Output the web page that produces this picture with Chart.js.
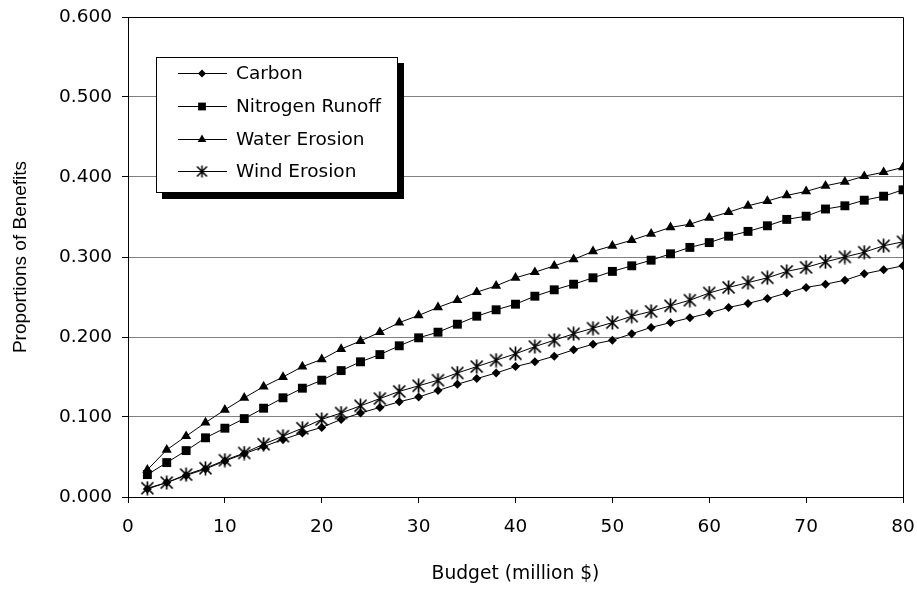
<!DOCTYPE html>
<html>
<head>
<meta charset="utf-8">
<script src="https://cdn.jsdelivr.net/npm/chart.js@4/dist/chart.umd.min.js"></script>
<style>
  html, body { margin: 0; padding: 0; background: #fff; overflow: hidden; }
  #wrap { width: 917px; height: 591px; }
  canvas { display: block; }
</style>
</head>
<body>
<div id="wrap"><canvas id="benefits"></canvas></div>
<script>
// budget (million $)
const budget = [2,4,6,8,10,12,14,16,18,20,22,24,26,28,30,32,34,36,38,40,
                42,44,46,48,50,52,54,56,58,60,62,64,66,68,70,72,74,76,78,80];

const carbon = [.010,.018,.027,.035,.045,.054,.063,.072,.080,.087,
                .097,.105,.112,.119,.125,.133,.141,.148,.155,.163,
                .169,.176,.184,.191,.196,.204,.212,.218,.224,.230,
                .237,.242,.248,.255,.262,.266,.271,.279,.284,.289];

const nitrogen = [.028,.043,.058,.074,.086,.098,.111,.124,.136,.146,
                  .158,.169,.178,.189,.199,.206,.216,.226,.234,.241,
                  .251,.259,.266,.274,.282,.289,.296,.304,.312,.318,
                  .326,.332,.339,.347,.351,.360,.364,.371,.376,.384];

const water = [.034,.059,.076,.093,.109,.124,.138,.150,.163,.172,
               .185,.195,.206,.218,.227,.237,.246,.256,.264,.274,
               .281,.289,.297,.307,.314,.321,.329,.337,.341,.349,
               .356,.364,.370,.377,.382,.389,.394,.401,.406,.412];

const wind = [.011,.018,.028,.036,.046,.055,.066,.076,.086,.097,
              .105,.114,.123,.132,.139,.146,.155,.163,.171,.179,
              .188,.196,.204,.211,.218,.226,.232,.239,.246,.255,
              .262,.268,.274,.282,.287,.294,.300,.306,.314,.319];

const seriesNames = ["Carbon", "Nitrogen Runoff", "Water Erosion", "Wind Erosion"];
const xTicks = [0,10,20,30,40,50,60,70,80];
const yTicks = [0,0.1,0.2,0.3,0.4,0.5,0.6];

const FONT = "'Liberation Sans', Arial, sans-serif";
const WIDE = "'DejaVu Sans', Verdana, sans-serif";

// asterisk marker: an X with a vertical bar
function makeStar(size, lw){
  let c = document.createElement("canvas");
  c.width = size; c.height = size;
  let g = c.getContext("2d");
  g.strokeStyle = "#000";
  g.lineWidth = lw;
  let a = 1.5, b = size - 1.5, m = size / 2;
  g.beginPath();
  g.moveTo(a, a); g.lineTo(b, b);
  g.moveTo(b, a); g.lineTo(a, b);
  g.moveTo(m, 0.5); g.lineTo(m, size - 0.5);
  g.stroke();
  return c;
}
const starBig = makeStar(15, 1.7);
const starSmall = makeStar(13, 1.5);

function pts(arr){
  return arr.map((v, i) => ({x: budget[i], y: v}));
}

const styles = [
  {style: "rectRot", radius: 4.5, legendRadius: 4},
  {style: "rect", radius: 6.3, legendRadius: 5.5},
  {style: "triangle", radius: 5.8, legendRadius: 5},
  {style: starBig, radius: 7, legendStyle: starSmall}
];

const allSeries = [carbon, nitrogen, water, wind];

const datasets = allSeries.map((s, i) => ({
  label: seriesNames[i],
  data: pts(s),
  borderColor: "#000",
  backgroundColor: "#000",
  borderWidth: 1,
  pointStyle: styles[i].style,
  pointRadius: styles[i].radius,
  pointBorderWidth: 0,
  pointBackgroundColor: "#000",
  pointBorderColor: "#000",
  tension: 0
}));

// drop the label overhang padding so layout.padding decides the plot box
function noPad(scale){
  scale.paddingTop = 0;
  scale.paddingBottom = 0;
  scale.paddingLeft = 0;
  scale.paddingRight = 0;
}

// black frame on top and right of the plot area
const frame = {
  id: "frame",
  afterDatasetsDraw(chart){
    const {ctx, chartArea: a} = chart;
    ctx.save();
    ctx.strokeStyle = "#000";
    ctx.lineWidth = 1;
    ctx.beginPath();
    ctx.moveTo(a.left, a.top + 0.5);
    ctx.lineTo(a.right + 0.5, a.top + 0.5);
    ctx.lineTo(a.right + 0.5, a.bottom);
    ctx.stroke();
    ctx.restore();
  }
};

// boxed legend with drop shadow
const boxLegend = {
  id: "boxLegend",
  afterDraw(chart){
    const ctx = chart.ctx;
    const bx = 156, by = 57, bw = 242, bh = 136;
    ctx.save();
    ctx.fillStyle = "#000";
    ctx.fillRect(bx + 6, by + 6, bw, bh);
    ctx.fillStyle = "#fff";
    ctx.fillRect(bx, by, bw, bh);
    ctx.strokeStyle = "#000";
    ctx.lineWidth = 1;
    ctx.strokeRect(bx + 0.5, by + 0.5, bw - 1, bh - 1);

    const rows = [73, 106, 139, 171];
    ctx.font = "18.5px " + WIDE;
    ctx.textBaseline = "middle";
    ctx.textAlign = "left";
    seriesNames.forEach((name, i) => {
      let y = rows[i];
      ctx.strokeStyle = "#000";
      ctx.lineWidth = 1;
      ctx.beginPath();
      ctx.moveTo(178, y + 0.5);
      ctx.lineTo(227, y + 0.5);
      ctx.stroke();
      let st = styles[i].legendStyle || styles[i].style;
      ctx.fillStyle = "#000";
      Chart.helpers.drawPoint(ctx, {
        pointStyle: st, radius: styles[i].legendRadius || 6,
        rotation: 0, borderWidth: 0
      }, 202, y + 0.5);
      ctx.fillStyle = "#000";
      ctx.fillText(name, 236, y + 1);
    });
    ctx.restore();
  }
};

new Chart(document.getElementById("benefits"), {
  type: "line",
  data: { datasets: datasets },
  options: {
    responsive: true,
    maintainAspectRatio: false,
    animation: false,
    events: [],
    layout: { padding: { left: 0, right: 14, top: 17, bottom: 0 } },
    plugins: {
      legend: { display: false },
      tooltip: { enabled: false }
    },
    scales: {
      x: {
        type: "linear",
        min: 0, max: 80,
        afterFit(scale){ scale.height = 94; noPad(scale); },
        afterBuildTicks(scale){ scale.ticks = xTicks.map(v => ({value: v})); },
        grid: { drawOnChartArea: false, tickLength: 6, tickColor: "#000" },
        border: { color: "#000", width: 1 },
        ticks: { color: "#000", padding: 13, maxRotation: 0, font: { family: WIDE, size: 18.5 } },
        title: {
          display: true,
          text: "Budget (million $)",
          color: "#000",
          font: { family: WIDE, size: 18.7, lineHeight: 1 },
          padding: { top: 0, bottom: 8 }
        }
      },
      y: {
        min: 0, max: 0.6,
        afterFit(scale){ scale.width = 128; noPad(scale); },
        afterBuildTicks(scale){ scale.ticks = yTicks.map(v => ({value: v})); },
        grid: { color: "#808080", lineWidth: 1, tickLength: 6, tickColor: "#000" },
        border: { color: "#000", width: 1 },
        ticks: {
          color: "#000", padding: 10,
          font: { family: WIDE, size: 18.5 },
          callback: v => v.toFixed(3)
        },
        title: {
          display: true,
          text: "Proportions of Benefits",
          color: "#000",
          font: { family: FONT, size: 19, lineHeight: 1.2 },
          padding: { top: 9, bottom: 0 }
        }
      }
    }
  },
  plugins: [frame, boxLegend]
});
</script>
</body>
</html>
